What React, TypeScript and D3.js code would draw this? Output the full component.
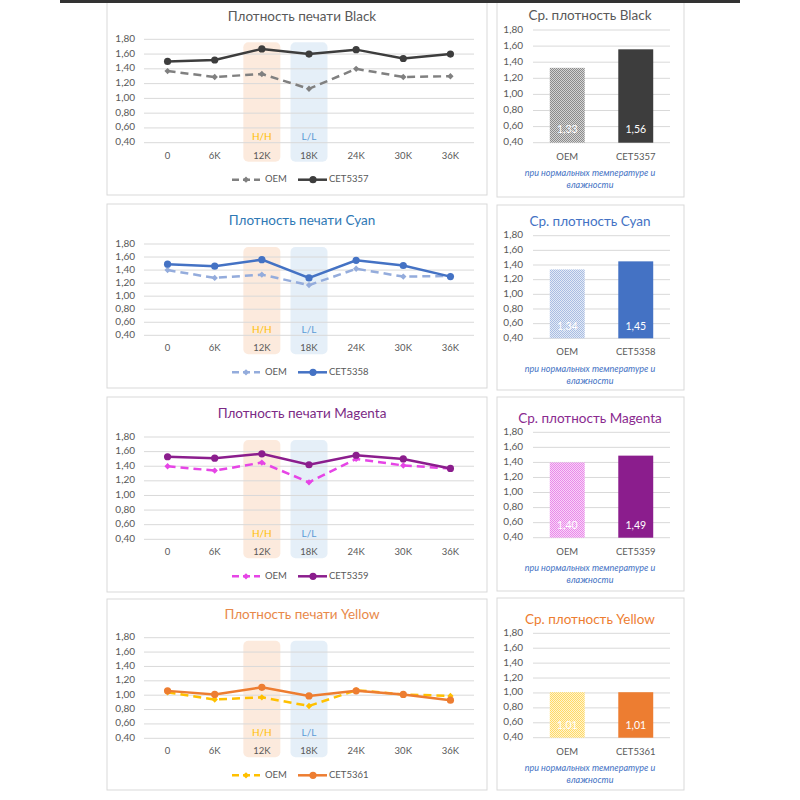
import * as d3 from 'd3';

// Пробеги (отпечатки) и деления оси
const STAGES = ['0', '6K', '12K', '18K', '24K', '30K', '36K'];
const Y_TICKS = [0.4, 0.6, 0.8, 1.0, 1.2, 1.4, 1.6, 1.8];
const COLORS_NAMES = ['Black', 'Cyan', 'Magenta', 'Yellow'];
const CET_NAMES = ['CET5357', 'CET5358', 'CET5359', 'CET5361'];

// Плотность по пробегу
const BLACK_OEM = [1.37, 1.29, 1.33, 1.13, 1.40, 1.29, 1.30];
const BLACK_CET = [1.50, 1.52, 1.67, 1.60, 1.66, 1.54, 1.60];
const CYAN_OEM = [1.40, 1.28, 1.33, 1.17, 1.42, 1.30, 1.31];
const CYAN_CET = [1.49, 1.46, 1.56, 1.28, 1.55, 1.47, 1.30];
const MAGENTA_OEM = [1.40, 1.34, 1.45, 1.18, 1.50, 1.41, 1.37];
const MAGENTA_CET = [1.53, 1.51, 1.57, 1.42, 1.55, 1.50, 1.37];
const YELLOW_OEM = [1.04, 0.94, 0.97, 0.85, 1.07, 1.01, 0.99];
const YELLOW_CET = [1.06, 1.01, 1.11, 0.99, 1.06, 1.01, 0.93];

// Средняя плотность
const AVG_OEM = [1.33, 1.34, 1.40, 1.01];
const AVG_CET = [1.56, 1.45, 1.49, 1.01];

const OEM_SERIES = [BLACK_OEM, CYAN_OEM, MAGENTA_OEM, YELLOW_OEM];
const CET_SERIES = [BLACK_CET, CYAN_CET, MAGENTA_CET, YELLOW_CET];

const THEMES = [
  { title: '#595959', barTitle: '#595959', cet: '#3d3d3d', oem: '#808080', patA: '#d4d4d4', patB: '#8c8c8c' },
  { title: '#2f79b5', barTitle: '#4472c4', cet: '#4472c4', oem: '#94acdc', patA: '#e3eaf6', patB: '#a9bde2' },
  { title: '#7b2a85', barTitle: '#8a2a8f', cet: '#8b1d8d', oem: '#e645e6', patA: '#f8d2f8', patB: '#e98ae9' },
  { title: '#e8894a', barTitle: '#ed7d31', cet: '#ed7d31', oem: '#ffc000', patA: '#fff4d0', patB: '#ffd966' },
];

const LINE_LAYOUT = [
  { gridTop: 39.3, gridBottom: 142.7, boxTop: -2, boxBottom: 195 },
  { gridTop: 244, gridBottom: 335.3, boxTop: 204, boxBottom: 388 },
  { gridTop: 437, gridBottom: 539.3, boxTop: 397, boxBottom: 592 },
  { gridTop: 637.7, gridBottom: 738.3, boxTop: 599, boxBottom: 790 },
];
const BAR_LAYOUT = [
  { gridTop: 30, gridBottom: 142.7, boxTop: -2, boxBottom: 197 },
  { gridTop: 235.7, gridBottom: 338.3, boxTop: 205, boxBottom: 390 },
  { gridTop: 432.3, gridBottom: 537.7, boxTop: 397, boxBottom: 591 },
  { gridTop: 633.3, gridBottom: 737.7, boxTop: 598, boxBottom: 790 },
];

const FONT = 'Lato, "Open Sans", sans-serif';
const fmt = (v: number) => d3.format('.2f')(v).replace('.', ',');
const diamond = d3.symbol(d3.symbolSquare, 20)()!;

function LinePanel({ i }: { i: number }) {
  const L = LINE_LAYOUT[i];
  const t = THEMES[i];
  const x = d3.scaleBand<string>().domain(STAGES).range([144, 474]);
  const cx = (s: string) => x(s)! + x.bandwidth() / 2;
  const y = d3.scaleLinear().domain([0.4, 1.8]).range([L.gridBottom, L.gridTop]);
  const line = d3.line<number>().x((_, k) => cx(STAGES[k])).y(d => y(d));
  const oem = OEM_SERIES[i];
  const cet = CET_SERIES[i];
  const rw = 37;
  const rTop = L.gridTop + 3;
  const rBot = L.gridBottom + 19;
  const legY = L.gridBottom + 37;
  return (
    <g>
      <rect x={107} y={L.boxTop} width={380} height={L.boxBottom - L.boxTop} fill="#fff" stroke="#d9d9d9" />
      <text x={302} y={L.gridTop - 22} textAnchor="middle" dominantBaseline="middle" fontSize={13.5} fill={t.title}>
        {`Плотность печати ${COLORS_NAMES[i]}`}
      </text>
      <rect x={cx('12K') - rw / 2} y={rTop} width={rw} height={rBot - rTop} rx={5} fill="#fbe3d2" opacity={0.75} />
      <rect x={cx('18K') - rw / 2} y={rTop} width={rw} height={rBot - rTop} rx={5} fill="#dce9f6" opacity={0.75} />
      {Y_TICKS.map(v => (
        <g key={v}>
          <line x1={144} x2={474} y1={y(v)} y2={y(v)} stroke="#d9d9d9" />
          <text x={135} y={y(v)} textAnchor="end" dominantBaseline="middle" fontSize={10} fill="#595959">{fmt(v)}</text>
        </g>
      ))}
      <text x={cx('12K')} y={L.gridBottom - 5} textAnchor="middle" dominantBaseline="middle" fontSize={10} fill="#ffc000">H/H</text>
      <text x={cx('18K')} y={L.gridBottom - 5} textAnchor="middle" dominantBaseline="middle" fontSize={10} fill="#5b9bd5">L/L</text>
      {STAGES.map(s => (
        <text key={s} x={cx(s)} y={L.gridBottom + 13.5} textAnchor="middle" dominantBaseline="middle" fontSize={9.5} fill="#595959">{s}</text>
      ))}
      <path d={line(oem)!} fill="none" stroke={t.oem} strokeWidth={2.5} strokeDasharray="8,5" />
      {oem.map((v, k) => (
        <path key={k} d={diamond} transform={`translate(${cx(STAGES[k])},${y(v)}) rotate(45)`} fill={t.oem} />
      ))}
      <path d={line(cet)!} fill="none" stroke={t.cet} strokeWidth={2.5} />
      {cet.map((v, k) => (
        <circle key={k} cx={cx(STAGES[k])} cy={y(v)} r={3.6} fill={t.cet} />
      ))}
      <line x1={232} x2={260} y1={legY} y2={legY} stroke={t.oem} strokeWidth={2.5} strokeDasharray="7,4" />
      <path d={diamond} transform={`translate(246,${legY}) rotate(45)`} fill={t.oem} />
      <text x={265} y={legY} dominantBaseline="middle" fontSize={9.5} fill="#595959">OEM</text>
      <line x1={298} x2={327} y1={legY} y2={legY} stroke={t.cet} strokeWidth={2.5} />
      <circle cx={313} cy={legY} r={3.6} fill={t.cet} />
      <text x={329} y={legY} dominantBaseline="middle" fontSize={9.5} fill="#595959">{CET_NAMES[i]}</text>
    </g>
  );
}

function BarPanel({ i }: { i: number }) {
  const L = BAR_LAYOUT[i];
  const t = THEMES[i];
  const cats = ['OEM', CET_NAMES[i]];
  const vals = [AVG_OEM[i], AVG_CET[i]];
  const x = d3.scaleBand<string>().domain(cats).range([533, 670]).paddingInner(0.49).paddingOuter(0.245);
  const y = d3.scaleLinear().domain([0.4, 1.8]).range([L.gridBottom, L.gridTop]);
  const pid = `pat${i}`;
  return (
    <g>
      <defs>
        <pattern id={pid} width={2} height={2} patternUnits="userSpaceOnUse">
          <rect width={2} height={2} fill={t.patA} />
          <rect width={1} height={1} fill={t.patB} />
          <rect x={1} y={1} width={1} height={1} fill={t.patB} />
        </pattern>
      </defs>
      <rect x={497} y={L.boxTop} width={187} height={L.boxBottom - L.boxTop} fill="#fff" stroke="#d9d9d9" />
      <text x={590} y={L.gridTop - 13} textAnchor="middle" dominantBaseline="middle" fontSize={13.5} fill={t.barTitle}>
        {`Ср. плотность ${COLORS_NAMES[i]}`}
      </text>
      {Y_TICKS.map(v => (
        <g key={v}>
          <line x1={533} x2={670} y1={y(v)} y2={y(v)} stroke="#d9d9d9" />
          <text x={523} y={y(v)} textAnchor="end" dominantBaseline="middle" fontSize={10} fill="#595959">{fmt(v)}</text>
        </g>
      ))}
      {cats.map((c, k) => (
        <g key={c}>
          <rect x={x(c)} y={y(vals[k])} width={x.bandwidth()} height={y(0.4) - y(vals[k])}
            fill={k === 0 ? `url(#${pid})` : t.cet} />
          <text x={x(c)! + x.bandwidth() / 2} y={y(0.55)} textAnchor="middle" dominantBaseline="middle" fontSize={10.5}
            fill="#fff">{fmt(vals[k])}</text>
          <text x={x(c)! + x.bandwidth() / 2} y={L.gridBottom + 14.5} textAnchor="middle" dominantBaseline="middle"
            fontSize={9.5} fill="#595959">{c}</text>
        </g>
      ))}
      <text x={590} y={L.gridBottom + 31} textAnchor="middle" dominantBaseline="middle" fontSize={9}
        fontStyle="italic" fill="#4472c4">при нормальных температуре и</text>
      <text x={590} y={L.gridBottom + 43} textAnchor="middle" dominantBaseline="middle" fontSize={9}
        fontStyle="italic" fill="#4472c4">влажности</text>
    </g>
  );
}

export default function App() {
  return (
    <svg width={800} height={800} viewBox="0 0 800 800" fontFamily={FONT}
      style={{ position: 'absolute', left: 0, top: 0, background: '#fff' }}>
      <rect width={800} height={800} fill="#fff" />
      {[0, 1, 2, 3].map(i => (
        <g key={i}>
          <LinePanel i={i} />
          <BarPanel i={i} />
        </g>
      ))}
      <rect x={60} y={0} width={680} height={3} fill="#333" />
    </svg>
  );
}
